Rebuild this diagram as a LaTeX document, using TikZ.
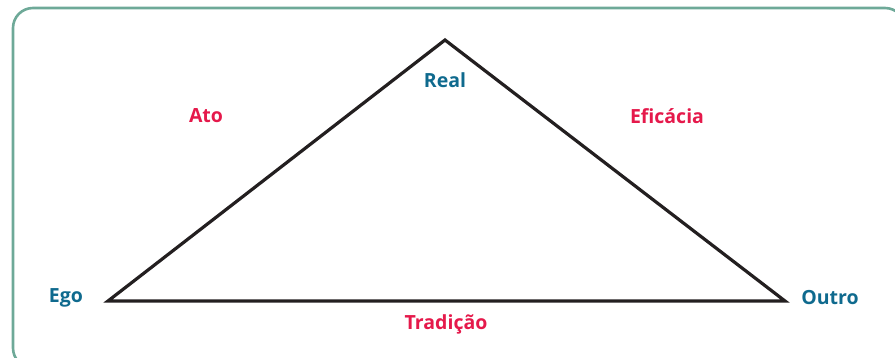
\documentclass[tikz,border=0pt]{standalone}
\usepackage{fontspec}
\setmainfont{Open Sans}
\usepackage{tikz}
\usetikzlibrary{positioning, calc}
\definecolor{FrameLine}{HTML}{6EA998}
\definecolor{VertexInk}{HTML}{0F6A8E}
\definecolor{SideInk}{HTML}{E5194B}
\definecolor{EdgeInk}{HTML}{231F20}

\begin{document}
\begin{tikzpicture}[
    x=1pt, y=-1pt,
    font=\bfseries\fontsize{19.5}{23}\selectfont,
    vertex/.style={text=VertexInk, inner sep=0pt},
    side/.style={text=SideInk, inner sep=0pt},
    edge/.style={draw=EdgeInk, line width=3.2pt, line join=miter},
  ]
    \useasboundingbox (0,0) rectangle (895,358);

    % ---- frame ----
    \draw[FrameLine, line width=2.6pt, rounded corners=20pt]
      (13,8) rectangle (905,368);

    % ---- corners of the triangle ----
    \coordinate (top) at (445,40);
    \coordinate (left) at (108,301);
    \coordinate (right) at (785,301);
    \draw[edge] (top) -- (right) -- (left) -- cycle;

    % ---- vertex labels ----
    \node[vertex] (real) at (445,80) {Real};
    \node[vertex] (ego) at (66,298) {Ego};
    \node[vertex] (outro) at (830,298) {Outro};

    % ---- side labels ----
    \node[side] (ato) at (206,116) {Ato};
    \node[side] (eficacia) at (667,116) {Eficácia};
    \node[side] (tradicao) at (446,324) {Tradição};
\end{tikzpicture}
\end{document}
